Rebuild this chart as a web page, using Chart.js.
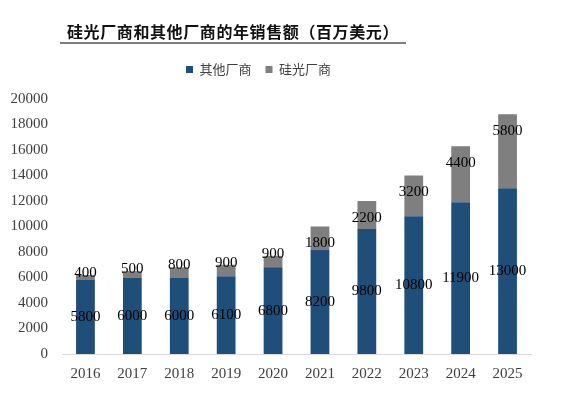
<!DOCTYPE html>
<html>
<head>
<meta charset="utf-8">
<script src="https://cdn.jsdelivr.net/npm/chart.js@4/dist/chart.umd.min.js"></script>
<style>
  html, body { margin: 0; padding: 0; background: #fff; }
  #wrap { position: relative; width: 563px; height: 397px; }
  #title {
    position: absolute; left: 60px; top: 20px; width: 346px;
    font-family: "Noto Sans CJK SC", sans-serif; font-weight: bold; font-size: 16px;
    color: #111; text-align: center; letter-spacing: 0.6px;
    border-bottom: 2px solid #7f7f7f; line-height: 22px; padding-bottom: 0px;
  }
</style>
</head>
<body>
<div id="wrap">
  <div id="title">硅光厂商和其他厂商的年销售额（百万美元）</div>
  <canvas id="myChart" width="563" height="397"></canvas>
</div>
<script>
const years = ['2016', '2017', '2018', '2019', '2020', '2021', '2022', '2023', '2024', '2025'];
const others = [5800, 6000, 6000, 6100, 6800, 8200, 9800, 10800, 11900, 13000];
const siPhotonics = [400, 500, 800, 900, 900, 1800, 2200, 3200, 4400, 5800];
const yTicks = [0, 2000, 4000, 6000, 8000, 10000, 12000, 14000, 16000, 18000, 20000];

// extra room under the legend, and nudge it a bit left like the original
const legendGap = {
  id: 'legendGap',
  beforeInit(chart) {
    const fit = chart.legend.fit;
    chart.legend.fit = function () {
      fit.bind(chart.legend)();
      this.height += 13;
    };
  },
  afterLayout(chart) {
    chart.legend.left -= 12;
    chart.legend.right -= 12;
  }
};

// labels like the excel ones: blue in the middle, gray near the top
const barLabels = {
  id: 'barLabels',
  afterDatasetsDraw(chart) {
    const ctx = chart.ctx;
    ctx.save();
    ctx.font = '15px "Liberation Serif", serif';
    ctx.fillStyle = '#000';
    ctx.textAlign = 'center';
    ctx.textBaseline = 'middle';
    chart.data.datasets.forEach((ds, di) => {
      chart.getDatasetMeta(di).data.forEach((bar, i) => {
        const top = bar.y, bottom = bar.base;
        let y;
        if (di === 0) {
          y = (top + bottom) / 2;
        } else {
          y = (bottom - top) > 18 ? top + 17 : top - 2;
        }
        ctx.fillText(String(ds.data[i]), bar.x, y);
      });
    });
    ctx.restore();
  }
};

const config = {
  type: 'bar',
  data: {
    labels: years,
    datasets: [
      {
        label: '其他厂商',
        data: others,
        backgroundColor: '#1f4e79',
        borderWidth: 0,
        barPercentage: 0.4,
        categoryPercentage: 1
      },
      {
        label: '硅光厂商',
        data: siPhotonics,
        backgroundColor: '#7f7f7f',
        borderWidth: 0,
        barPercentage: 0.4,
        categoryPercentage: 1
      }
    ]
  },
  options: {
    responsive: false,
    animation: false,
    layout: { padding: { top: 49, left: 10, right: 32, bottom: 11 } },
    plugins: {
      legend: {
        position: 'top',
        labels: {
          boxWidth: 7, boxHeight: 7, padding: 14,
          color: '#404040',
          font: { family: '"Noto Sans CJK SC", sans-serif', size: 13 }
        }
      },
      tooltip: { enabled: false }
    },
    scales: {
      x: {
        stacked: true,
        grid: { display: false },
        border: { display: true, color: '#d9d9d9', width: 1 },
        ticks: { color: '#404040', font: { family: '"Liberation Serif", serif', size: 15 }, padding: 3 }
      },
      y: {
        stacked: true,
        min: 0, max: 20000,
        grid: { display: false, drawTicks: false },
        border: { display: false },
        afterBuildTicks(scale) { scale.ticks = yTicks.map(v => ({ value: v })); },
        afterFit(scale) { scale.width = 52; },
        ticks: {
          color: '#404040', font: { family: '"Liberation Serif", serif', size: 15 }, padding: 14,
          callback: v => String(v)
        }
      }
    }
  },
  plugins: [legendGap, barLabels]
};

const myChart = new Chart(document.getElementById('myChart'), config);
</script>
</body>
</html>
